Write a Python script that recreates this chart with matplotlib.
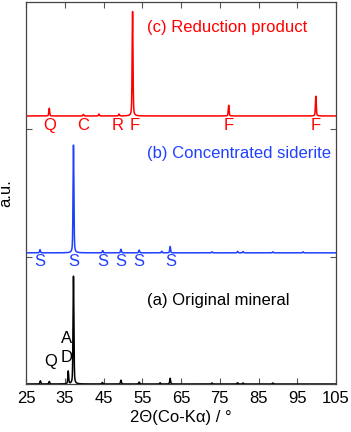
import numpy as np
import matplotlib
matplotlib.use("Agg")
import matplotlib.pyplot as plt

plt.rcParams['font.family'] = ['Liberation Sans', 'DejaVu Sans']

# ---- data: peak positions (2theta, deg) and heights (a.u.) ----
orig_pos = [28.7, 31.0, 35.9, 37.25, 44.7, 49.5, 54.2, 59.6, 62.2, 73.0, 79.6, 81.0, 88.7]
orig_hgt = [0.025, 0.02, 0.10, 0.85, 0.012, 0.03, 0.015, 0.01, 0.045, 0.008, 0.01, 0.008, 0.008]
orig_off = 0.0

sid_pos = [28.6, 37.25, 44.8, 49.5, 54.2, 60.0, 62.2, 73.0, 79.6, 81.0, 88.7, 96.5]
sid_hgt = [0.025, 0.85, 0.018, 0.028, 0.022, 0.012, 0.05, 0.008, 0.012, 0.01, 0.008, 0.008]
sid_off = 1.03

red_pos = [31.0, 39.8, 43.8, 49.0, 52.5, 77.3, 99.8]
red_hgt = [0.06, 0.012, 0.015, 0.015, 0.82, 0.084, 0.155]
red_off = 2.105

red_marks = ['Q', 'C', 'R', 'F', 'F', 'F']
red_mark_x = [31.0, 39.8, 48.7, 53.1, 77.3, 99.8]
sid_marks = ['S', 'S', 'S', 'S', 'S', 'S']
sid_mark_x = [28.6, 37.4, 44.9, 49.4, 54.2, 62.4]
orig_marks = ['Q', 'D', 'A']
orig_mark_x = [31.4, 35.5, 35.5]
orig_mark_y = [0.175, 0.21, 0.36]

xticks = [25, 35, 45, 55, 65, 75, 85, 95, 105]

RED = '#ff0000'
BLUE = '#2040ff'
BLACK = '#000000'


def profile(x, pos, hgt, w=0.13):
    y = np.zeros_like(x)
    for p, h in zip(pos, hgt):
        y += h * (0.6 * np.exp(-((x - p) / w) ** 2 * np.log(2)) + 0.4 / (1 + ((x - p) / w) ** 2))
    return y


x = np.arange(25, 105.001, 0.02)

fig = plt.figure(figsize=(3.51, 4.32), dpi=100)
ax = fig.add_axes([26 / 351, 48 / 432, 310 / 351, 382 / 432])

ax.plot(x, orig_off + profile(x, orig_pos, orig_hgt), color=BLACK, lw=1.1)
ax.plot(x, sid_off + profile(x, sid_pos, sid_hgt), color=BLUE, lw=1.1)
ax.plot(x, red_off + profile(x, red_pos, red_hgt), color=RED, lw=1.1)

fs = 12
for m, xm in zip(red_marks, red_mark_x):
    ax.text(xm, 2.03, m, color=RED, fontsize=fs, ha='center', va='center')
for m, xm in zip(sid_marks, sid_mark_x):
    ax.text(xm, 0.96, m, color=BLUE, fontsize=fs, ha='center', va='center')
for m, xm, ym in zip(orig_marks, orig_mark_x, orig_mark_y):
    ax.text(xm, ym, m, color=BLACK, fontsize=fs, ha='center', va='center')

ax.text(56.2, 2.80, '(c) Reduction product', color=RED, fontsize=fs, ha='left', va='center')
ax.text(56.2, 1.81, '(b) Concentrated siderite', color=BLUE, fontsize=fs, ha='left', va='center')
ax.text(56.2, 0.655, '(a) Original mineral', color=BLACK, fontsize=fs, ha='left', va='center')

ax.set_xlim(25, 105)
ax.set_ylim(0, 3)
ax.set_xticks(xticks)
ax.set_xticklabels([str(t) for t in xticks], fontsize=fs)
ax.set_yticks([1, 2])
ax.set_yticklabels([])
ax.tick_params(direction='in', top=True, right=True, length=4, width=0.8, color='#555555', pad=5)
for s in ax.spines.values():
    s.set_color('#444444')
    s.set_linewidth(0.9)

ax.set_xlabel('2\u0398(Co-K\u03b1) / \u00b0', fontsize=fs, labelpad=3)
ax.set_ylabel('a.u.', fontsize=fs, labelpad=4)

fig.savefig('out.png', dpi=100)
